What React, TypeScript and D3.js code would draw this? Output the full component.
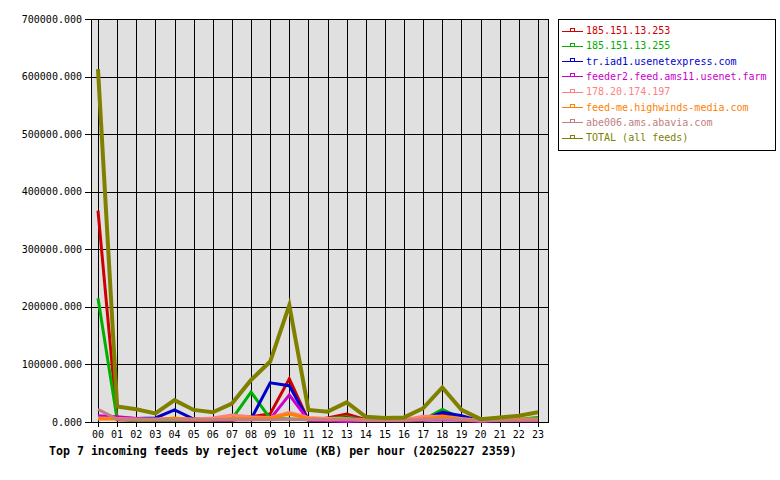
import React from "react";
import * as d3 from "d3";

const hours = ["00","01","02","03","04","05","06","07","08","09","10","11","12","13","14","15","16","17","18","19","20","21","22","23"];
const yTicks = [0, 100000, 200000, 300000, 400000, 500000, 600000, 700000];

const seriesNames = [
  "185.151.13.253",
  "185.151.13.255",
  "tr.iad1.usenetexpress.com",
  "feeder2.feed.ams11.usenet.farm",
  "178.20.174.197",
  "feed-me.highwinds-media.com",
  "abe006.ams.abavia.com",
  "TOTAL (all feeds)",
];
const seriesColors = ["#cc0000", "#00b000", "#0000cc", "#cc00cc", "#ff8080", "#ff8000", "#c08080", "#808000"];

const red = [367000, 4000, 3000, 3000, 3000, 3000, 3000, 3000, 9000, 14000, 75000, 3000, 7000, 14000, 4000, 3000, 3000, 3000, 14000, 5000, 2000, 3000, 3000, 3000];
const green = [215000, 5000, 3000, 3000, 3000, 5000, 4000, 5000, 52000, 6000, 5000, 4000, 6000, 9000, 3000, 3000, 3000, 4000, 22000, 6000, 2000, 4000, 5000, 8000];
const blue = [9000, 7000, 6000, 7000, 21000, 5000, 4000, 4000, 5000, 68000, 63000, 3000, 4000, 7000, 3000, 3000, 3000, 4000, 17000, 11000, 2000, 3000, 3000, 3000];
const magenta = [11000, 9000, 6000, 4000, 5000, 4000, 4000, 4000, 4000, 5000, 47000, 3000, 2000, 1000, 2000, 2000, 2000, 3000, 4000, 3000, 1000, 2000, 2000, 2000];
const salmon = [7000, 6000, 5000, 5000, 6000, 5000, 7000, 12000, 9000, 8000, 17000, 8000, 6000, 6000, 4000, 3000, 4000, 10000, 10000, 6000, 3000, 4000, 5000, 5000];
const orange = [5000, 5000, 4000, 4000, 7000, 4000, 4000, 6000, 6000, 7000, 14000, 6000, 4000, 5000, 3000, 3000, 3000, 5000, 9000, 4000, 2000, 3000, 4000, 4000];
const rosy = [22000, 5000, 4000, 4000, 4000, 4000, 4000, 4000, 4000, 4000, 5000, 4000, 4000, 4000, 3000, 3000, 3000, 4000, 5000, 4000, 2000, 3000, 3000, 3000];
const total = [613000, 27000, 22000, 15000, 38000, 21000, 17000, 32000, 73000, 105000, 203000, 21000, 18000, 34000, 9000, 7000, 8000, 24000, 60000, 21000, 5000, 8000, 11000, 17000];

const seriesValues = [red, green, blue, magenta, salmon, orange, rosy, total];

const title = "Top 7 incoming feeds by reject volume (KB) per hour (20250227 2359)";

const FONT = "'DejaVu Sans Mono', 'Liberation Mono', monospace";

export default function App() {
  const W = 780, H = 480;
  const plotL = 91, plotR = 548, plotT = 19, plotB = 422;
  const x = d3.scaleLinear().domain([0, hours.length - 1]).range([98, 538]);
  const y = d3.scaleLinear().domain([0, 700000]).range([plotB, plotT]);
  const line = d3.line<number>().x((_, i) => x(i)).y((d) => y(d));

  const legX = 558, legY = 19, legW = 217, legH = 131;

  return (
    <svg width={W} height={H} style={{ position: "absolute", left: 0, top: 0, background: "#fff" }} fontFamily={FONT}>
      <rect x={0} y={0} width={W} height={H} fill="#fff" />
      <rect x={plotL} y={plotT} width={plotR - plotL} height={plotB - plotT} fill="#e0e0e0" />
      {/* horizontal grid */}
      {yTicks.map((t) => (
        <g key={"y" + t}>
          <line x1={plotL} x2={plotR} y1={Math.round(y(t)) + 0.5} y2={Math.round(y(t)) + 0.5} stroke="#000" strokeWidth={1} />
          <line x1={85} x2={plotL} y1={Math.round(y(t)) + 0.5} y2={Math.round(y(t)) + 0.5} stroke="#000" strokeWidth={1} />
          <text x={82} y={y(t)} dy="0.35em" textAnchor="end" fontSize={10} fill="#000">
            {t.toFixed(3)}
          </text>
        </g>
      ))}
      {/* vertical grid */}
      {hours.map((h, i) => (
        <g key={"x" + h}>
          <line x1={Math.round(x(i)) + 0.5} x2={Math.round(x(i)) + 0.5} y1={plotT} y2={plotB + 5} stroke="#000" strokeWidth={1} />
          <text x={x(i)} y={438} textAnchor="middle" fontSize={10} fill="#000">
            {h}
          </text>
        </g>
      ))}
      <rect x={plotL + 0.5} y={plotT + 0.5} width={plotR - plotL} height={plotB - plotT} fill="none" stroke="#000" strokeWidth={1} />
      {/* series */}
      {seriesValues.map((vals, si) => (
        <path key={"s" + si} d={line(vals) || ""} fill="none" stroke={seriesColors[si]} strokeWidth={si === 7 ? 4 : 3} strokeLinejoin="miter" />
      ))}
      {/* legend */}
      <rect x={legX + 0.5} y={legY + 0.5} width={legW} height={legH} fill="#fff" stroke="#000" strokeWidth={1} />
      {seriesNames.map((n, i) => {
        const ly = 30.5 + i * 15.3;
        return (
          <g key={"l" + i}>
            <line x1={562} x2={583} y1={Math.round(ly) + 0.5} y2={Math.round(ly) + 0.5} stroke={seriesColors[i]} strokeWidth={1} />
            <rect x={570.5} y={Math.round(ly) - 2.5} width={4} height={3} fill="#fff" stroke={seriesColors[i]} strokeWidth={1} />
            <text x={586} y={ly} dy="0.35em" fontSize={10} fill={seriesColors[i]}>
              {n}
            </text>
          </g>
        );
      })}
      <text x={49} y={455} fontSize={11.6} fontWeight="bold" fill="#000">
        {title}
      </text>
    </svg>
  );
}
